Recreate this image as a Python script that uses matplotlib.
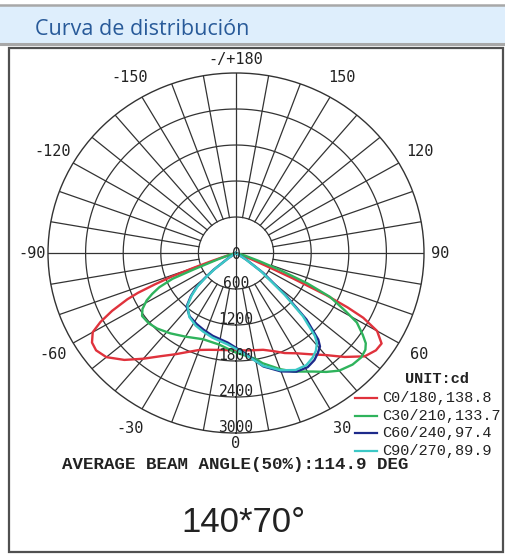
import numpy as np
import matplotlib
matplotlib.use("Agg")
import matplotlib.pyplot as plt
from matplotlib.patches import Rectangle

# photometric data (angle in degrees from nadir, intensity in cd)
c0_ang = [-90, -80, -75, -72, -71, -70, -69, -68, -67, -66, -64, -62, -60, -57, -54, -50, -45, -40,
          -35, -30, -25, -20, -15, -10, -5, 0, 5, 10, 15, 20, 25, 30, 35, 40, 45, 50, 54, 57,
          60, 62, 63, 64, 65, 66, 67, 70, 80, 90]
c0_val = [0, 0, 50, 200, 400, 700, 1100, 1400, 1700, 1900, 2200, 2450, 2640, 2740, 2760, 2700, 2520, 2300,
          2100, 1950, 1820, 1720, 1670, 1640, 1625, 1620, 1630, 1645, 1670, 1740, 1840, 1930, 2060, 2220,
          2450, 2680, 2760, 2770, 2600, 2300, 2000, 1600, 1000, 500, 250, 60, 0, 0]

c30_ang = [-90, -73, -70, -68, -67, -65, -63, -61, -58, -55, -50, -45, -38, -30, -20, -10, 0, 10, 13,
           20, 25, 32, 36, 40, 45, 49, 52, 54, 56, 59, 61, 64, 66, 68, 70, 73, 80, 90]
c30_val = [0, 100, 300, 700, 1100, 1350, 1500, 1630, 1760, 1830, 1820, 1780, 1700, 1610, 1530, 1550,
           1660, 1790, 1885, 2060, 2180, 2330, 2450, 2560, 2630, 2650, 2620, 2560, 2440, 2250, 2000,
           1670, 1250, 760, 400, 150, 0, 0]

c60_ang = [-60, -55, -52, -50, -48, -45, -41.5, -35, -28, -22, -15, -5, 0, 5, 13, 20, 26, 31, 35,
           38, 40.7, 42.3, 45.4, 48.2, 52.6, 56, 60]
c60_val = [0, 150, 450, 650, 850, 1020, 1190, 1290, 1340, 1380, 1430, 1500, 1580, 1680, 1940, 2100,
           2200, 2220, 2180, 2120, 2055, 1950, 1580, 1085, 550, 200, 0]

c90_ang = [-60, -55, -52, -50, -48, -45, -41.5, -35, -28, -22, -15, -5, 0, 5, 13, 20, 26, 31, 35,
           38, 40.7, 42.3, 45.4, 48.2, 52.6, 56, 60]
c90_val = [0, 120, 420, 620, 820, 1000, 1170, 1300, 1370, 1410, 1460, 1530, 1600, 1700, 1930, 2080,
           2170, 2180, 2130, 2070, 1980, 1870, 1500, 1030, 500, 170, 0]

series_names = ["C0/180", "C30/210", "C60/240", "C90/270"]
series_beam = [138.8, 133.7, 97.4, 89.9]
series_colors = ["#e0323c", "#2fb35c", "#1d2a8a", "#3cc8c6"]

ring_values = [600, 1200, 1800, 2400, 3000]
angle_ticks = [0, 30, 60, 90, 120, 150, 180, -150, -120, -90, -60, -30]
angle_labels = ["0", "30", "60", "90", "120", "150", "-/+180", "-150", "-120", "-90", "-60", "-30"]

W, H = 505, 555
fig = plt.figure(figsize=(W / 100, H / 100), dpi=100)

# background layer in pixel coordinates
bg = fig.add_axes([0, 0, 1, 1], zorder=0)
bg.set_xlim(0, W)
bg.set_ylim(H, 0)
bg.axis("off")
bg.add_patch(Rectangle((0, 5), W, 38, facecolor="#deeefc", edgecolor="none"))
bg.plot([0, W], [5, 5], color="#a8a8a8", lw=1.8)
bg.plot([0, W], [43.5, 43.5], color="#a8a8a8", lw=2.2)
bg.text(35, 35, "Curva de distribución", fontsize=15.5, color="#285a99",
        family="Open Sans", va="baseline", ha="left")
bg.add_patch(Rectangle((9, 48), 494, 504, facecolor="white", edgecolor="#505050", lw=1.6))

# polar diagram (slightly stretched like the source picture)
cx, cy, rx, ry = 236, 253, 188, 180
ax = fig.add_axes([(cx - rx) / W, 1 - (cy + ry) / H, 2 * rx / W, 2 * ry / H],
                  projection="polar", zorder=1)
ax.set_aspect("auto")
ax.set_theta_zero_location("S")
ax.set_theta_direction(1)
ax.set_ylim(0, 3000)
ax.grid(False)
ax.set_xticks([])
ax.set_yticks([])
ax.spines["polar"].set_color("#333333")
ax.spines["polar"].set_linewidth(1.0)

grid_c = "#333333"
full = np.linspace(0, 2 * np.pi, 361)
for v in ring_values[:-1]:
    ax.plot(full, np.full_like(full, v), color=grid_c, lw=0.9)
for a in range(0, 360, 10):
    t = np.radians(a)
    r0 = 0 if a % 90 == 0 else ring_values[0]
    ax.plot([t, t], [r0, 3000], color=grid_c, lw=0.9)

curves = [(c0_ang, c0_val), (c30_ang, c30_val), (c60_ang, c60_val), (c90_ang, c90_val)]
for (ang, val), col in zip(curves, series_colors):
    ax.plot(np.radians(ang), val, color=col, lw=1.7, zorder=3)

# radial labels
tick_font = dict(family="DejaVu Sans Mono", fontsize=10.5, color="#222222")
ax.text(0, 100, "0", ha="center", va="baseline", zorder=4, **tick_font)
for v in ring_values:
    ax.text(0, v - 20, str(v), ha="center", va="baseline", zorder=4, **tick_font)

# angle labels
for a, lab in zip(angle_ticks, angle_labels):
    r = 3380
    if a == 180:
        r = 3230
    elif abs(a) == 90:
        r = 3250
    elif a == 0:
        r = 3170
    ax.text(np.radians(a), r, lab, ha="center", va="center",
            family="DejaVu Sans Mono", fontsize=11, color="#222222")

# legend
mono = "Liberation Mono"
bg.text(437, 379, "UNIT:cd", family=mono, fontweight="bold", fontsize=11,
        ha="center", va="center", color="#222222", zorder=5)
for i, (nm, bv, col) in enumerate(zip(series_names, series_beam, series_colors)):
    y = 398 + i * 17.7
    bg.plot([355, 377], [y, y], color=col, lw=1.6, zorder=5)
    bg.text(382, y, f"{nm},{bv}", family=mono, fontsize=11, ha="left", va="center",
            color="#222222", zorder=5)

bg.text(62, 464, "AVERAGE BEAM ANGLE(50%):114.9 DEG", family=mono, fontweight="bold",
        fontsize=12.6, ha="left", va="center", color="#222222", zorder=4)

bg.text(243, 522, "140*70°", family="Liberation Sans", fontsize=25, ha="center",
        va="center", color="#222222", zorder=4)

fig.savefig("out.png", dpi=100)
